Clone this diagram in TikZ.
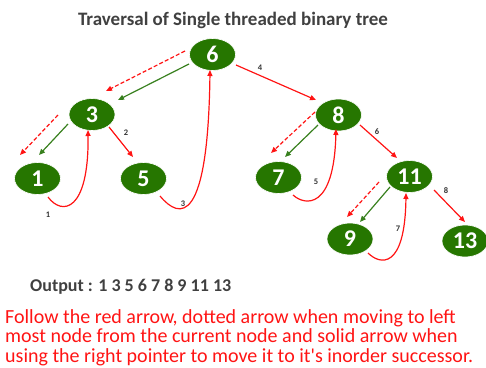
\documentclass[tikz,border=0pt]{standalone}
\usepackage{fontspec}
\setmainfont{Carlito}
\usetikzlibrary{shapes.geometric,arrows.meta,calc}
\definecolor{treegreen}{RGB}{38,118,0}
\definecolor{edgegreen}{RGB}{56,128,30}
\definecolor{threadred}{RGB}{255,20,20}
\definecolor{inkgray}{RGB}{64,64,64}
\tikzset{
  tnode/.style={ellipse,fill=treegreen,draw=white,line width=0.6pt,
    minimum width=46pt,minimum height=32pt,inner sep=0pt,
    text=white,font=\fontsize{24}{24}\selectfont\bfseries},
  tip/.style={-{Triangle[length=6pt,width=5pt]}},
  redline/.style={tip,draw=threadred,line width=1.2pt},
  dashline/.style={redline,dash pattern=on 4pt off 2.2pt},
  greenline/.style={tip,draw=edgegreen,line width=1.2pt},
  steplabel/.style={font=\fontsize{8.5}{8.5}\selectfont\bfseries,text=black!80,inner sep=0pt}
}
\begin{document}
\begin{tikzpicture}[x=1pt,y=-1pt]
\path[use as bounding box] (0,0) rectangle (486,367);

% title
\node[anchor=base,font=\fontsize{19}{19}\selectfont\bfseries,text=inkgray,inner sep=0pt] (title) at (233,25)
  {Traversal of Single threaded binary tree};

% tree nodes
\node[tnode] (n6) at (212.5,54.5) {6};
\node[tnode] (n3) at (92,114.5) {3};
\node[tnode] (n8) at (338.5,115) {8};
\node[tnode] (n1) at (37.5,178.5) {1};
\node[tnode] (n5) at (143.5,178.5) {5};
\node[tnode] (n7) at (278.5,177.5) {7};
\node[tnode] (n11) at (409.5,176.5) {11};
\node[tnode] (n9) at (350,239) {9};
\node[tnode] (n13) at (465,241) {13};

% moves to the left-most node (dashed) and the left child links (green)
\draw[dashline] ($(n6)+(-27.5,-3.5)$) -- ($(n3)+(14,-23.5)$);
\draw[greenline] ($(n6)+(-23.5,9.5)$) -- ($(n3)+(26,-14.5)$);
\draw[dashline] ($(n3)+(-34,0.5)$) -- ($(n1)+(-17.5,-23.5)$);
\draw[greenline] ($(n3)+(-24,9.5)$) -- ($(n1)+(1.5,-23.5)$);
\draw[dashline] ($(n8)+(-23.5,-3)$) -- ($(n7)+(-7.5,-24.5)$);
\draw[greenline] ($(n8)+(-20.5,10)$) -- ($(n7)+(6.5,-20.5)$);
\draw[dashline] ($(n11)+(-30.5,5.5)$) -- ($(n9)+(-3,-22)$);
\draw[greenline] ($(n11)+(-19.5,10.5)$) -- ($(n9)+(10,-17)$);

% right child steps
\draw[redline] ($(n3)+(17,12.5)$) -- ($(n5)+(-10.5,-21.5)$);
\draw[redline] ($(n6)+(23.5,10.5)$) -- ($(n8)+(-22.5,-15)$);
\draw[redline] ($(n8)+(21.5,10)$) -- ($(n11)+(-12.5,-18.5)$);
\draw[redline] ($(n11)+(24.5,13.5)$) -- ($(n13)+(0,-19)$);

% threads to the inorder successor
\draw[redline] ($(n1)+(10.5,18.5)$) .. controls (62,216) and (89,212) .. ($(n3)+(-4,15.5)$);
\draw[redline] ($(n5)+(16.5,17.5)$) .. controls (180,220) and (208,225) .. ($(n6)+(-2.5,15.5)$);
\draw[redline] ($(n7)+(14.5,17.5)$) .. controls (305,206) and (334,210) .. ($(n8)+(-2.5,14)$);
\draw[redline] ($(n9)+(18,14)$) .. controls (380,265) and (405,270) .. ($(n11)+(-3.5,16.5)$);

% step numbers
\node[steplabel] (s1) at (48,215) {1};
\node[steplabel] (s2) at (126,133) {2};
\node[steplabel] (s3) at (183,204) {3};
\node[steplabel] (s4) at (260,68) {4};
\node[steplabel] (s5) at (316,182) {5};
\node[steplabel] (s6) at (377,132) {6};
\node[steplabel] (s7) at (398,229) {7};
\node[steplabel] (s8) at (446,191) {8};

% output and explanation
\node[anchor=base west,font=\fontsize{18}{18}\selectfont\bfseries,text=inkgray,inner sep=0pt] (out) at (30,291)
  {Output : 1 3 5 6 7 8 9 11 13};
\node[anchor=base west,align=left,text=threadred,inner sep=0pt,
  font=\fontsize{20}{19.5}\selectfont] (note) at (5,362)
  {Follow the red arrow, dotted arrow when moving to left\\
   most node from the current node and solid arrow when\\
   using the right pointer to move it to it\textquotesingle s inorder successor.};
\end{tikzpicture}
\end{document}
